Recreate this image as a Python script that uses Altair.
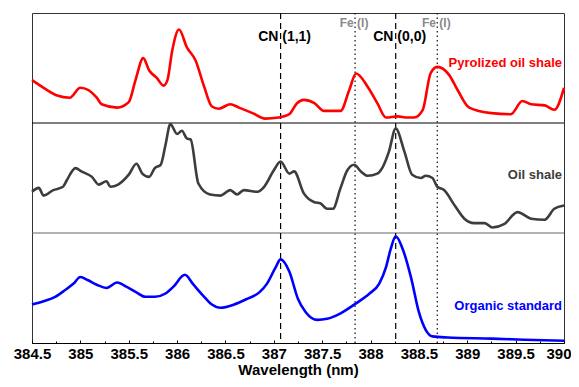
import altair as alt
import pandas as pd

FONT = "Liberation Sans"

# ---- spectra (normalized intensity within each panel, 0..1) ----
red_wl = [384.5, 384.62, 384.76, 384.89, 385.0, 385.17, 385.22, 385.38, 385.5, 385.57,
          385.65, 385.71, 385.79, 385.86, 385.9, 385.95, 386.02, 386.1, 386.19, 386.28,
          386.36, 386.43, 386.55, 386.64, 386.78, 386.91, 387.05, 387.16, 387.24, 387.31,
          387.42, 387.52, 387.69, 387.78, 387.85, 387.97, 388.07, 388.16, 388.28, 388.38,
          388.45, 388.54, 388.62, 388.69, 388.81, 388.9, 389.02, 389.25, 389.45, 389.57,
          389.66, 389.8, 389.9, 390.0]
red_val = [0.39, 0.32, 0.25, 0.23, 0.32, 0.23, 0.17, 0.14, 0.19, 0.39,
           0.59, 0.48, 0.41, 0.34, 0.39, 0.66, 0.85, 0.69, 0.57, 0.33,
           0.15, 0.13, 0.17, 0.14, 0.09, 0.04, 0.05, 0.08, 0.18, 0.21,
           0.18, 0.11, 0.11, 0.30, 0.45, 0.33, 0.18, 0.05, 0.06, 0.05,
           0.05, 0.12, 0.45, 0.51, 0.44, 0.30, 0.14, 0.09, 0.08, 0.20,
           0.17, 0.16, 0.12, 0.32]

gray_wl = [384.5, 384.57, 384.62, 384.72, 384.82, 384.86, 384.95, 385.01, 385.12, 385.19,
           385.27, 385.31, 385.39, 385.5, 385.58, 385.64, 385.71, 385.77, 385.83, 385.88,
           385.93, 386.0, 386.05, 386.1, 386.14, 386.22, 386.34, 386.45, 386.55, 386.62,
           386.69, 386.83, 386.9, 387.0, 387.07, 387.16, 387.21, 387.31, 387.42, 387.48,
           387.55, 387.61, 387.69, 387.76, 387.83, 387.9, 387.97, 388.07, 388.12, 388.19,
           388.26, 388.35, 388.43, 388.52, 388.57, 388.64, 388.69, 388.76, 388.87, 388.97,
           389.07, 389.18, 389.26, 389.38, 389.52, 389.66, 389.8, 389.9, 390.0]
gray_val = [0.375, 0.41, 0.34, 0.39, 0.42, 0.48, 0.59, 0.56, 0.51, 0.44,
            0.47, 0.42, 0.44, 0.53, 0.63, 0.54, 0.51, 0.59, 0.62, 0.80,
            0.99, 0.90, 0.93, 0.86, 0.85, 0.45, 0.35, 0.34, 0.39, 0.35,
            0.39, 0.375, 0.42, 0.57, 0.65, 0.54, 0.56, 0.36, 0.28, 0.27,
            0.22, 0.22, 0.41, 0.57, 0.62, 0.56, 0.52, 0.54, 0.59, 0.74,
            0.95, 0.74, 0.53, 0.50, 0.52, 0.50, 0.42, 0.39, 0.25, 0.13,
            0.09, 0.09, 0.05, 0.08, 0.19, 0.13, 0.12, 0.22, 0.25]

blue_wl = [384.5, 384.62, 384.74, 384.84, 384.93, 385.0, 385.08, 385.17, 385.27, 385.38,
           385.48, 385.58, 385.67, 385.77, 385.88, 385.96, 386.08, 386.17, 386.28, 386.36,
           386.45, 386.59, 386.72, 386.85, 386.93, 387.02, 387.07, 387.16, 387.25, 387.33,
           387.45, 387.55, 387.69, 387.85, 387.99, 388.09, 388.16, 388.21, 388.26, 388.33,
           388.42, 388.5, 388.57, 388.64, 388.8, 389.25, 389.59, 390.0]
blue_val = [0.35, 0.38, 0.42, 0.48, 0.54, 0.60, 0.57, 0.53, 0.50, 0.55,
            0.51, 0.46, 0.42, 0.42, 0.45, 0.51, 0.62, 0.53, 0.42, 0.35,
            0.32, 0.35, 0.40, 0.46, 0.54, 0.69, 0.76, 0.65, 0.40, 0.28,
            0.21, 0.22, 0.27, 0.36, 0.45, 0.54, 0.69, 0.86, 0.97, 0.86,
            0.59, 0.28, 0.12, 0.06, 0.05, 0.04, 0.03, 0.02]

series_names = ["Pyrolized oil shale", "Oil shale", "Organic standard"]
series_colors = ["#ff0000", "#3d3d3d", "#0000ff"]
series_offsets = [2, 1, 0]

# ---- reference lines ----
cn_lines = [387.07, 388.26]
cn_labels = ["CN (1,1)", "CN (0,0)"]
fe_lines = [387.84, 388.69]
fe_labels = ["Fe (I)", "Fe (I)"]
major_ticks = [384.5, 385, 385.5, 386, 386.5, 387, 387.5, 388, 388.5, 389, 389.5, 390]
inner_labels = [384.5, 385, 385.5, 386, 386.5, 387, 387.5, 388, 388.5, 389, 389.5]
last_label = [390]
minor_ticks = [384.75, 385.25, 385.75, 386.25, 386.75, 387.25, 387.75, 388.25,
               388.75, 389.25, 389.75]

rows = []
for name, off, wl, val in zip(series_names, series_offsets,
                              [red_wl, gray_wl, blue_wl],
                              [red_val, gray_val, blue_val]):
    for w, v in zip(wl, val):
        rows.append({"wl": w, "val": v, "series": name, "offset": off, "order": w})
spec_df = pd.DataFrame(rows)

xscale = alt.Scale(domain=[384.5, 390], nice=False, zero=False)
yscale = alt.Scale(domain=[0, 3], nice=False, zero=True)

label_style = dict(labelFont=FONT, labelFontSize=15, labelFontWeight="bold",
                   labelColor="black", labelPadding=3, grid=False, orient="bottom")

curves = alt.Chart(spec_df).transform_calculate(
    y="datum.val + datum.offset"
).mark_line(strokeWidth=2.6, interpolate="monotone").encode(
    x=alt.X("wl:Q", scale=xscale,
            axis=alt.Axis(values=inner_labels, ticks=False, format=".1~f",
                          labelFlush=False, domainColor="black", domainWidth=1.2,
                          title="Wavelength (nm)", titleFont=FONT, titleFontSize=15,
                          titleFontWeight="bold", titleColor="black", titlePadding=1,
                          titleX=266, **label_style)),
    y=alt.Y("y:Q", scale=yscale,
            axis=alt.Axis(labels=False, ticks=False, title=None, grid=False,
                          domainColor="#808080", domainWidth=2, minExtent=0, maxExtent=0)),
    color=alt.Color("series:N", scale=alt.Scale(domain=series_names, range=series_colors),
                    legend=None),
    order="order:Q",
)

sep_df = pd.DataFrame({"y": [2, 1], "c": ["#000000", "#666666"]})
separators = alt.Chart(sep_df).mark_rule(strokeWidth=1).encode(
    y=alt.Y("y:Q", scale=yscale, axis=None),
    color=alt.Color("c:N", scale=None),
)

cn_df = pd.DataFrame({"x": cn_lines, "label": cn_labels})
fe_df = pd.DataFrame({"x": fe_lines, "label": fe_labels})

cn_rules = alt.Chart(cn_df).mark_rule(color="black", strokeWidth=1.2,
                                      strokeDash=[6, 4]).encode(
    x=alt.X("x:Q", scale=xscale,
            axis=alt.Axis(values=major_ticks, orient="bottom", offset=-3, tickSize=3,
                          tickColor="black", tickWidth=1, labels=False, domain=False,
                          grid=False, title=None)),
)
fe_rules = alt.Chart(fe_df).mark_rule(color="#222222", strokeWidth=1.3,
                                      strokeDash=[1.5, 3]).encode(
    x=alt.X("x:Q", scale=xscale,
            axis=alt.Axis(values=minor_ticks, orient="bottom", offset=-2, tickSize=2,
                          tickColor="black", tickWidth=1, labels=False, domain=False,
                          grid=False, title=None)),
)

cn_text = alt.Chart(cn_df).mark_text(font=FONT, fontSize=14, fontWeight="bold",
                                     color="black", align="center", baseline="middle",
                                     dx=4).encode(
    x=alt.X("x:Q", scale=xscale, axis=None),
    y=alt.value(24),
    text="label:N",
)
fe_text = alt.Chart(fe_df).mark_text(font=FONT, fontSize=12, fontWeight="bold",
                                     color="#8a8a8a", align="center", baseline="middle",
                                     dx=-1).encode(
    x=alt.X("x:Q", scale=xscale, axis=None),
    y=alt.value(10),
    text="label:N",
)

name_df = pd.DataFrame({"series": series_names, "x": [390, 390, 390],
                        "ylab": [2.55, 1.53, 0.34]})
names = alt.Chart(name_df).mark_text(font=FONT, fontSize=13, fontWeight="bold",
                                     align="right", baseline="middle", dx=-2).encode(
    x=alt.X("x:Q", scale=xscale,
            axis=alt.Axis(values=last_label, ticks=False, domain=False, title=None,
                          format=".1~f", labelAlign="right", labelOffset=7,
                          labelFlush=False, **label_style)),
    y=alt.Y("ylab:Q", scale=yscale, axis=None),
    text="series:N",
    color=alt.Color("series:N", scale=alt.Scale(domain=series_names, range=series_colors),
                    legend=None),
)

chart = alt.layer(
    separators, cn_rules, fe_rules, curves, cn_text, fe_text, names
).resolve_axis(x="independent").properties(
    width=532, height=330,
    autosize=alt.AutoSizeParams(type="none"),
    padding={"left": 24, "top": 5, "right": 7, "bottom": 36},
    background="white",
).configure_view(stroke="#333333", strokeWidth=1)

chart.save("out.html", embed_options={"renderer": "svg", "actions": False})
